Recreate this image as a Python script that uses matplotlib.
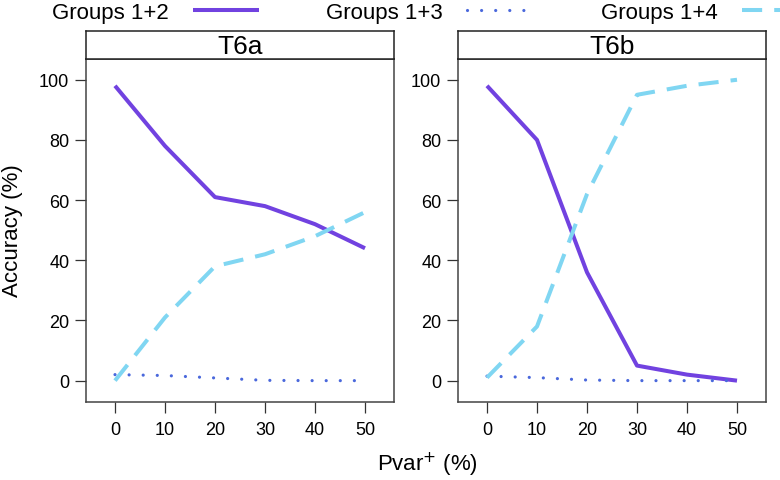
import matplotlib
matplotlib.use("Agg")
import matplotlib.pyplot as plt

plt.rcParams['font.family'] = ['Liberation Sans', 'DejaVu Sans']

# Pvar+ levels (%)
pvar = [0, 10, 20, 30, 40, 50]

panels = ['T6a', 'T6b']
series_names = ['Groups 1+2', 'Groups 1+3', 'Groups 1+4']

# accuracy (%)
t6a_g12 = [98, 78, 61, 58, 52, 44]
t6a_g13 = [2, 1.7, 0.9, 0.1, 0, 0]
t6a_g14 = [0, 21, 38, 42, 48, 56]

t6b_g12 = [98, 80, 36, 5, 2, 0]
t6b_g13 = [1.5, 1, 0.2, 0, 0, 0]
t6b_g14 = [1, 18, 62, 95, 98, 100]

panel_data = {
    'T6a': [t6a_g12, t6a_g13, t6a_g14],
    'T6b': [t6b_g12, t6b_g13, t6b_g14],
}

colors = ['#7142e0', '#4a68dc', '#80d6f2']
W, H = 780, 481

fig = plt.figure(figsize=(W / 100, H / 100), dpi=100)

lefts = [86, 458]
pw = 308
top_px, bot_px, strip_top = 60, 403, 32

handles = []
for i, name in enumerate(panels):
    l = lefts[i]
    ax = fig.add_axes([l / W, 1 - bot_px / H, pw / W, (bot_px - top_px) / H])
    ys = panel_data[name]
    h1, = ax.plot(pvar, ys[0], color=colors[0], lw=2.9, solid_capstyle='butt')
    h2, = ax.plot(pvar, ys[1], color=colors[1], lw=2.3,
                  linestyle=(0, (0.01, 4.4)), dash_capstyle='round')
    h3, = ax.plot(pvar, ys[2], color=colors[2], lw=2.9,
                  linestyle=(0, (5.0, 3.0)), dash_capstyle='butt')
    if i == 0:
        handles = [h1, h2, h3]
    ax.set_xlim(-5.8, 55.8)
    ax.set_ylim(-7.1, 106.9)
    ax.set_xticks(pvar)
    ax.set_yticks([0, 20, 40, 60, 80, 100])
    ax.tick_params(axis='both', which='both', top=False, right=False,
                   length=8, width=0.9, color='#333333', labelsize=13,
                   direction='out')
    ax.tick_params(axis='x', pad=6)
    ax.tick_params(axis='y', pad=4)
    for sp in ax.spines.values():
        sp.set_color('#444444')
        sp.set_linewidth(1.1)

    # strip on top
    sax = fig.add_axes([l / W, 1 - top_px / H, pw / W, (top_px - strip_top) / H])
    sax.set_xticks([])
    sax.set_yticks([])
    for sp in sax.spines.values():
        sp.set_color('#222222')
        sp.set_linewidth(1.1)
    sax.text(0.5, 0.45, name, transform=sax.transAxes, ha='center', va='center',
             fontsize=19)

fig.text(13 / W, 1 - 231 / H, 'Accuracy (%)', rotation=90, ha='center',
         va='center', fontsize=16)
fig.text(427 / W, 1 - 465 / H, 'Pvar$^{+}$ (%)', ha='center', va='center',
         fontsize=16)

fig.legend(handles, series_names, loc='center', bbox_to_anchor=(430 / W, 1 - 13 / H),
           ncol=3, frameon=False, markerfirst=False, fontsize=16,
           handlelength=3.0, handletextpad=1.1, columnspacing=3.0,
           borderpad=0, borderaxespad=0)

fig.savefig('out.png', dpi=100)
